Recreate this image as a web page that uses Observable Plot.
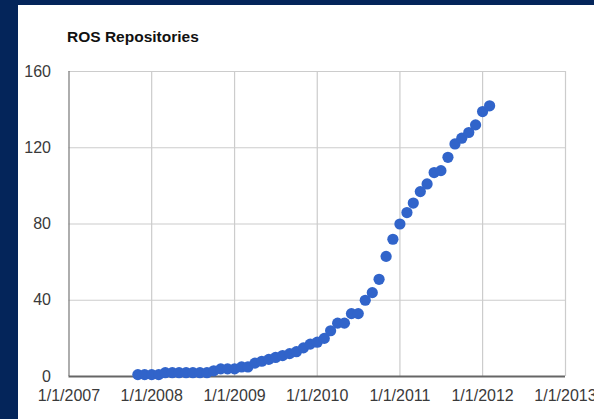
<!DOCTYPE html>
<html>
<head>
<meta charset="utf-8">
<script src="https://cdn.jsdelivr.net/npm/d3@7"></script>
<script src="https://cdn.jsdelivr.net/npm/@observablehq/plot@0.6"></script>
<style>
  html, body { margin: 0; padding: 0; width: 594px; height: 419px; overflow: hidden; background: #04255a; }
  #panel { position: absolute; left: 18px; top: 5px; width: 600px; height: 420px; background: #fff; }
  #title { position: absolute; left: 49px; top: 24px; font: bold 15.5px "Liberation Sans", Arial, sans-serif; line-height: 16px; color: #111; white-space: nowrap; }
  #chart { position: absolute; left: 0; top: 56px; }
  #chart svg { max-width: none; }
</style>
</head>
<body>
<div id="panel">
  <div id="title">ROS Repositories</div>
  <div id="chart"></div>
</div>
<script>
const titleText = "ROS Repositories";
const months = [
  "2007-11-01","2007-12-01",
  "2008-01-01","2008-02-01","2008-03-01","2008-04-01","2008-05-01","2008-06-01",
  "2008-07-01","2008-08-01","2008-09-01","2008-10-01","2008-11-01","2008-12-01",
  "2009-01-01","2009-02-01","2009-03-01","2009-04-01","2009-05-01","2009-06-01",
  "2009-07-01","2009-08-01","2009-09-01","2009-10-01","2009-11-01","2009-12-01",
  "2010-01-01","2010-02-01","2010-03-01","2010-04-01","2010-05-01","2010-06-01",
  "2010-07-01","2010-08-01","2010-09-01","2010-10-01","2010-11-01","2010-12-01",
  "2011-01-01","2011-02-01","2011-03-01","2011-04-01","2011-05-01","2011-06-01",
  "2011-07-01","2011-08-01","2011-09-01","2011-10-01","2011-11-01","2011-12-01",
  "2012-01-01","2012-02-01"
];
const repos = [
  1, 1,
  1, 1, 2, 2, 2, 2,
  2, 2, 2, 3, 4, 4,
  4, 5, 5, 7, 8, 9,
  10, 11, 12, 13, 15, 17,
  18, 20, 24, 28, 28, 33,
  33, 40, 44, 51, 63, 72,
  80, 86, 91, 97, 101, 107,
  108, 115, 122, 125, 128, 132,
  139, 142
];
const yTicks = [0, 40, 80, 120, 160];
const xTickYears = [2007, 2008, 2009, 2010, 2011, 2012, 2013];

const data = months.map((m, i) => ({date: new Date(m + "T00:00:00Z"), value: repos[i]}));
const xTicks = xTickYears.map(y => new Date(Date.UTC(y, 0, 1)));

document.getElementById("title").textContent = titleText;

const chart = Plot.plot({
  width: 576,
  height: 363,
  marginTop: 10,
  marginBottom: 48,
  marginLeft: 50.5,
  marginRight: 29,
  style: {
    fontFamily: '"Liberation Sans", Arial, sans-serif',
    fontSize: "16px",
    color: "#3a3a3a",
    background: "white",
    overflow: "visible"
  },
  x: {
    type: "utc",
    domain: [xTicks[0], xTicks[xTicks.length - 1]],
    ticks: xTicks,
    tickFormat: d => "1/1/" + d.getUTCFullYear(),
    tickSize: 0,
    tickPadding: 13,
    label: null
  },
  y: {
    domain: [yTicks[0], yTicks[yTicks.length - 1]],
    ticks: yTicks,
    tickSize: 0,
    tickPadding: 18,
    label: null
  },
  marks: [
    Plot.ruleX(xTicks.slice(1), {stroke: "#cccccc", strokeWidth: 1.2}),
    Plot.ruleY(yTicks.slice(1), {stroke: "#cccccc", strokeWidth: 1.2}),
    Plot.ruleX([xTicks[0]], {stroke: "#777777", strokeWidth: 1.2}),
    Plot.ruleY([0], {stroke: "#666666", strokeWidth: 2}),
    Plot.dot(data, {x: "date", y: "value", r: 5.6, fill: "#3164ca", stroke: "none"})
  ]
});
document.getElementById("chart").appendChild(chart);
</script>
</body>
</html>
